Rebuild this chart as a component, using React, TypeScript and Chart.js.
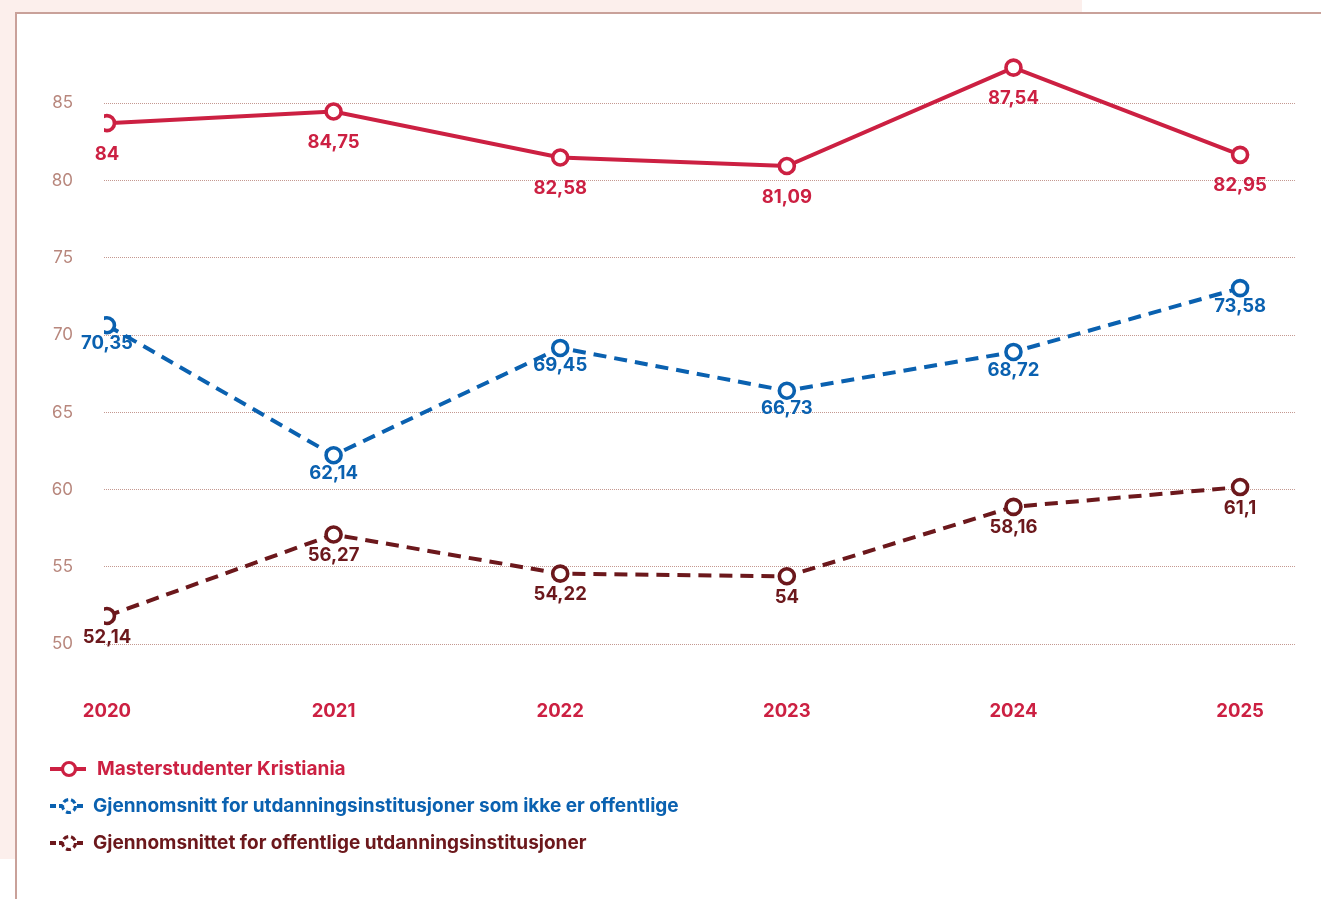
import React, { useEffect, useRef } from 'react';
import { Chart, registerables } from 'chart.js';

Chart.register(...registerables);

// ---- data ----
const years = [2020, 2021, 2022, 2023, 2024, 2025];
const yTickValues = [50, 55, 60, 65, 70, 75, 80, 85];
const seriesNames = [
  'Masterstudenter Kristiania',
  'Gjennomsnitt for utdanningsinstitusjoner som ikke er offentlige',
  'Gjennomsnittet for offentlige utdanningsinstitusjoner',
];
const kristianiaValues = [83.71, 84.46, 81.49, 80.94, 87.3, 81.66];
const privateValues = [70.64, 62.23, 69.17, 66.4, 68.91, 73.04];
const publicValues = [51.83, 57.1, 54.57, 54.4, 58.89, 60.17];
const kristianiaLabels = ['84', '84,75', '82,58', '81,09', '87,54', '82,95'];
const privateLabels = ['70,35', '62,14', '69,45', '66,73', '68,72', '73,58'];
const publicLabels = ['52,14', '56,27', '54,22', '54', '58,16', '61,1'];

// ---- styles ----
const RED = '#cc2042';
const BLUE = '#0a61b0';
const BROWN = '#6c181c';
const GRID = '#c49890';
const TICK = '#b8877d';
const PINK = '#fcefec';
const FONT = 'Inter, "DejaVu Sans", sans-serif';

const colors = [RED, BLUE, BROWN];
const valueSets = [kristianiaValues, privateValues, publicValues];
const labelSets = [kristianiaLabels, privateLabels, publicLabels];
const labelOffsets = [31, 18, 21];
const dashes = [[], [13, 8], [13, 8]];

const pointLabelPlugin = {
  id: 'pointLabelPlugin',
  afterDatasetsDraw(chart: any) {
    const ctx = chart.ctx;
    chart.data.datasets.forEach((_ds: any, i: number) => {
      const meta = chart.getDatasetMeta(i);
      ctx.save();
      ctx.font = `bold 18.5px ${FONT}`;
      ctx.fillStyle = colors[i];
      ctx.textAlign = 'center';
      ctx.textBaseline = 'middle';
      meta.data.forEach((pt: any, j: number) => {
        ctx.fillText(labelSets[i][j], pt.x, pt.y + labelOffsets[i]);
      });
      ctx.restore();
    });
  },
};

function Marker({ color, dashed }: { color: string; dashed: boolean }) {
  return (
    <svg width={38} height={20} style={{ display: 'block' }}>
      <line
        x1={1}
        y1={10}
        x2={37}
        y2={10}
        stroke={color}
        strokeWidth={4}
        strokeDasharray={dashed ? '6 3' : undefined}
      />
      <circle
        cx={20}
        cy={10}
        r={6.5}
        fill="#fff"
        stroke={color}
        strokeWidth={3.2}
        strokeDasharray={dashed ? '5 3' : undefined}
      />
    </svg>
  );
}

export default function App() {
  const canvasRef = useRef<HTMLCanvasElement | null>(null);

  useEffect(() => {
    if (!canvasRef.current) return;
    const chart = new Chart(canvasRef.current, {
      type: 'line',
      data: {
        datasets: seriesNames.map((name, i) => ({
          label: name,
          data: years.map((x, j) => ({ x, y: valueSets[i][j] })),
          borderColor: colors[i],
          backgroundColor: colors[i],
          borderWidth: 4,
          borderDash: dashes[i],
          pointRadius: 7.5,
          pointBorderWidth: 3.6,
          pointBackgroundColor: '#ffffff',
          pointBorderColor: colors[i],
          tension: 0,
          fill: false,
        })),
      },
      options: {
        animation: false,
        responsive: false,
        devicePixelRatio: 1,
        layout: { padding: { left: 24, right: 24, top: 25.3, bottom: 154.7 } },
        plugins: {
          legend: { display: false },
          tooltip: { enabled: false },
        },
        scales: {
          x: {
            type: 'linear',
            min: 2019.987,
            max: 2025.242,
            grid: { display: false, drawTicks: false },
            border: { display: false },
            afterBuildTicks: (s: any) => {
              s.ticks = years.map((v) => ({ value: v }));
            },
            afterFit: (s: any) => {
              s.height = 100;
            },
            ticks: {
              autoSkip: false,
              maxRotation: 0,
              padding: 56,
              color: RED,
              font: { family: FONT, size: 18.5, weight: 'bold' },
              callback: (v: any) => String(v),
            },
          },
          y: {
            min: 50,
            max: 89.01,
            afterBuildTicks: (s: any) => {
              s.ticks = yTickValues.map((v) => ({ value: v }));
            },
            afterFit: (s: any) => {
              s.width = 80;
            },
            grid: { color: GRID, lineWidth: 1, drawTicks: false },
            border: { display: false, dash: [1, 1] },
            ticks: {
              padding: 31,
              color: TICK,
              font: { family: FONT, size: 17 },
              callback: (v: any) => String(v),
            },
          },
        },
      },
      plugins: [pointLabelPlugin],
    } as any);
    return () => chart.destroy();
  }, []);

  return (
    <div
      style={{
        position: 'absolute',
        left: 0,
        top: 0,
        width: 1321,
        height: 899,
        overflow: 'hidden',
        background: '#fff',
      }}
    >
      <div style={{ position: 'absolute', left: 0, top: 0, width: 1082, height: 859, background: PINK }} />
      <div
        style={{
          position: 'absolute',
          left: 15,
          top: 12,
          width: 1400,
          height: 1000,
          background: '#fff',
          borderTop: '2px solid #c9a19a',
          borderLeft: '2px solid #c9a19a',
        }}
      />
      <canvas ref={canvasRef} width={1321} height={899} style={{ position: 'absolute', left: 0, top: 0 }} />
      <div
        style={{
          position: 'absolute',
          left: 49,
          top: 750,
          fontFamily: FONT,
          fontWeight: 700,
          fontSize: 19,
        }}
      >
        {seriesNames.map((name, i) => (
          <div key={name} style={{ display: 'flex', alignItems: 'center', height: 37 }}>
            <Marker color={colors[i]} dashed={i > 0} />
            <span style={{ color: colors[i], marginLeft: i === 0 ? 10 : 6, whiteSpace: 'nowrap' }}>{name}</span>
          </div>
        ))}
      </div>
    </div>
  );
}
